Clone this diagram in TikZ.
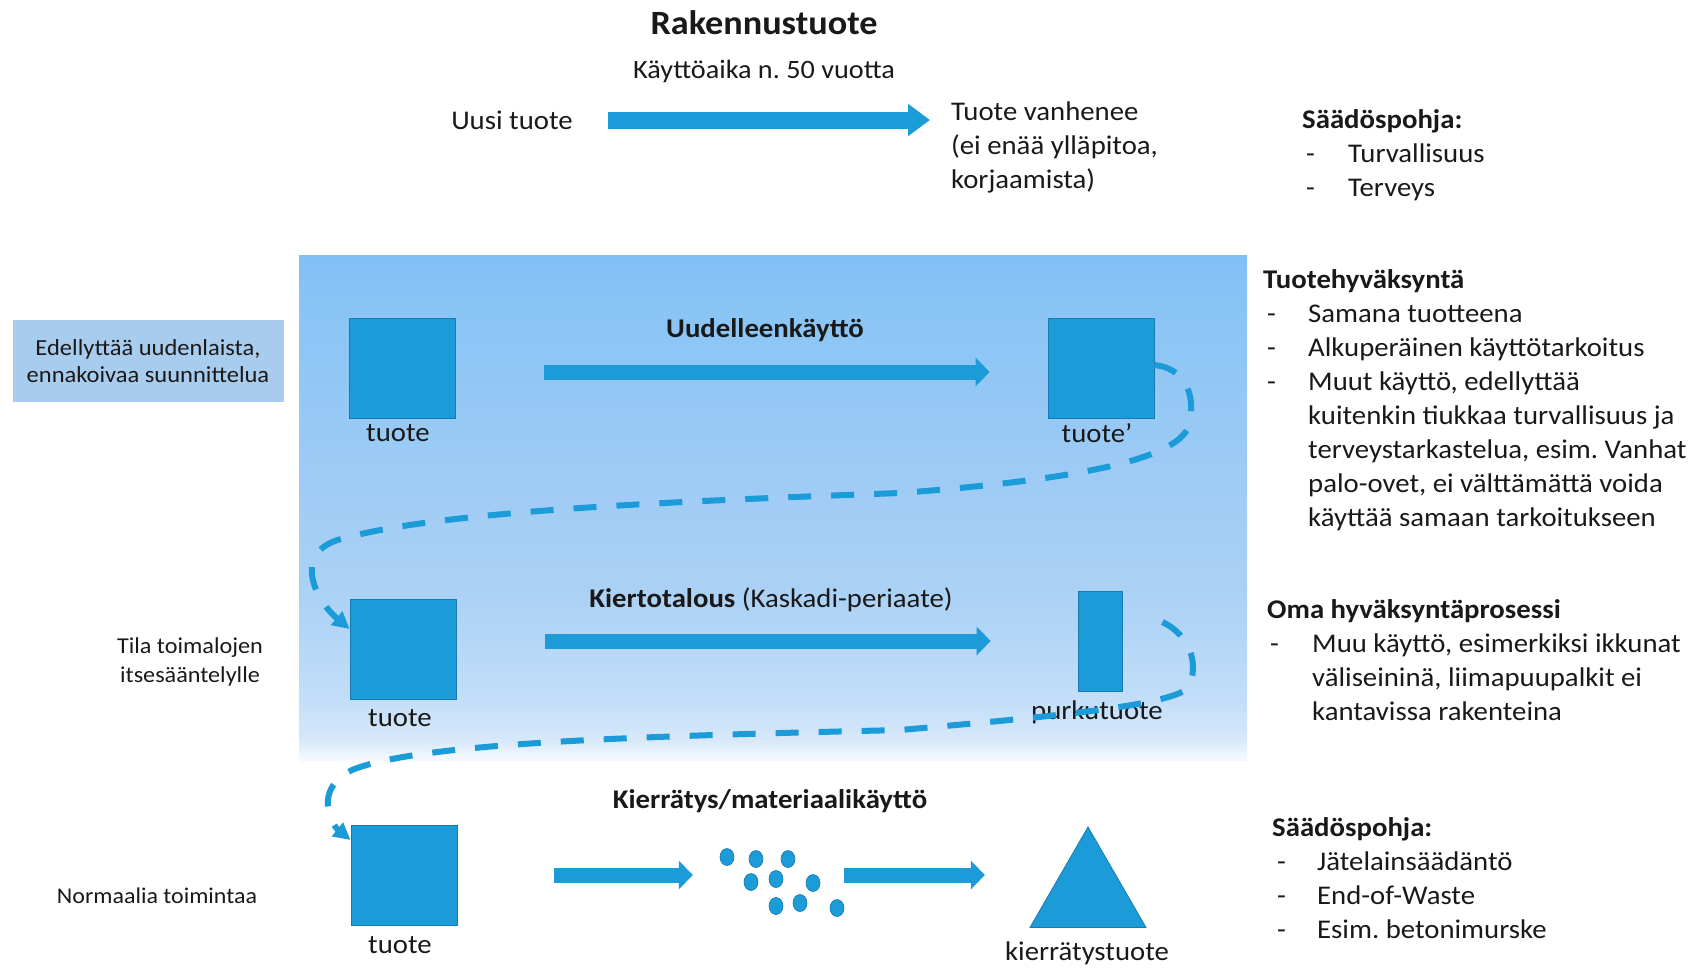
\documentclass[tikz,border=0pt]{standalone}
\usepackage{fontspec}
\setmainfont{Carlito}[FakeStretch=1.065]
\usepackage{tikz}
\usetikzlibrary{shapes,arrows.meta,positioning}
\frenchspacing
\definecolor{boxblue}{RGB}{27,155,215}
\definecolor{boxline}{RGB}{24,122,178}
\definecolor{notefill}{RGB}{168,204,238}
\definecolor{txtcol}{RGB}{25,25,25}
\definecolor{bga}{RGB}{250,252,255}
\definecolor{bgb}{RGB}{215,232,250}
\definecolor{bgc}{RGB}{195,222,248}
\definecolor{bgd}{RGB}{172,210,245}
\definecolor{bge}{RGB}{160,204,245}
\definecolor{bgf}{RGB}{137,196,245}
\definecolor{bgg}{RGB}{130,191,245}
\pgfdeclareverticalshading{bgfade}{100bp}{color(0bp)=(bga); color(25bp)=(bga); color(27.2bp)=(bgb); color(31bp)=(bgc); color(41bp)=(bgd); color(51bp)=(bge); color(70.5bp)=(bgf); color(75bp)=(bgg); color(100bp)=(bgg)}
\tikzset{prod/.style={rectangle,draw=boxline,fill=boxblue,line width=0.8pt,minimum width=106pt,minimum height=100pt,inner sep=0pt},
  txt/.style={text=txtcol,inner sep=0pt,font=\fontsize{27}{34}\selectfont},
  bold/.style={text=txtcol,inner sep=0pt,font=\bfseries\fontsize{27}{34}\selectfont},
  small/.style={text=txtcol,inner sep=0pt,align=center,font=\fontsize{22.7}{29}\selectfont},
  list/.style={text=txtcol,inner sep=0pt,anchor=base west,font=\fontsize{27}{34}\selectfont},
  blockarr/.style={draw=boxblue,line width=15pt,-{Triangle[length=14pt,width=28pt]}},
  bigarr/.style={draw=boxblue,line width=17pt,-{Triangle[length=22pt,width=31pt]}},
  flow/.style={draw=boxblue,line width=6pt,dash pattern=on 23pt off 20pt,-{Triangle[length=17pt,width=17pt]}},
  dot/.style={ellipse,fill=boxblue,draw=boxline,line width=0.6pt,minimum width=14pt,minimum height=17pt,inner sep=0pt},
  tri/.style={regular polygon,regular polygon sides=3,fill=boxblue,draw=boxline,line width=0.8pt,minimum size=134pt,inner sep=0pt}}

\begin{document}
\begin{tikzpicture}[x=1pt,y=-1pt]
    \useasboundingbox (0,0) rectangle (1706,967);
    \shade[shading=bgfade] (299,255) rectangle (1247,762);

    \node[bold,font=\bfseries\fontsize{34}{40}\selectfont] (title) at (764,23) {Rakennustuote};
    \node[txt,font=\fontsize{26.5}{32}\selectfont] (ika) at (764,71) {Käyttöaika n. 50 vuotta};
    \node[txt] (uusi) at (512,120) {Uusi tuote};
    \node[list] (vanh) at (951,120) {\begin{tabular}[t]{@{}l@{}}
        Tuote vanhenee\\(ei enää ylläpitoa,\\korjaamista)
    \end{tabular}};
    \draw[bigarr,shorten <=35pt,shorten >=21pt] (uusi.east) -- (uusi.east -| vanh.west);

    \node[list] (saad1) at (1302,128) {\begin{tabular}[t]{@{}p{46pt}@{}l@{}}
        \multicolumn{2}{@{}l@{}}{\bfseries Säädöspohja:}\\
        \hspace{4pt}-&Turvallisuus\\
        \hspace{4pt}-&Terveys
    \end{tabular}};

    \node[small,fill=notefill,minimum width=271pt,minimum height=82pt,font=\fontsize{23}{27}\selectfont] (edel) at (148,361) {Edellyttää uudenlaista,\\ennakoivaa suunnittelua};
    \node[small] (tila) at (190,662) {Tila toimalojen\\itsesääntelylle};
    \node[small,font=\fontsize{22.5}{27}\selectfont] (norm) at (157,896) {Normaalia toimintaa};

    \node[prod] (t1) at (402,368) {};
    \node[prod] (t1p) at (1101,368) {};
    \node[txt] (l1) at (398,433) {tuote};
    \node[txt] (l1p) at (1097,433) {tuote’};
    \node[bold] (uud) at (765,330) {Uudelleenkäyttö};
    \draw[blockarr,shorten <=89pt,shorten >=58pt] ([yshift=-4pt]t1.east) -- ([yshift=-4pt]t1p.west);

    \node[prod] (t2) at (403,649) {};
    \node[prod,minimum width=44pt] (purku) at (1100,641) {};
    \node[txt] (l2) at (400,718) {tuote};
    \node[txt] (l2p) at (1097,712) {purkutuote};
    \node[txt] (kier) at (771,600) {\textbf{Kiertotalous} (Kaskadi-periaate)};
    \draw[blockarr,shorten <=89pt,shorten >=87pt] (t2.east |- purku.west) -- (purku.west);

    \node[prod] (t3) at (404,875) {};
    \node (dots) at (782,882) [minimum width=124pt,minimum height=68pt,inner sep=0pt] {};
    \foreach \dx/\dy [count=\i] in {-55/-25,-26/-23,6/-23,-31/0,-6/-3,31/1,-6/24,18/21,55/26}
        \node[dot] (dot\i) at ([shift={(\dx,\dy)}]dots.center) {};
    \node[tri] (krt) at (1088,894) {};
    \node[txt] (l3) at (400,945) {tuote};
    \node[txt] (l3k) at (1087,953) {kierrätystuote};
    \node[bold] (kmat) at (770,801) {Kierrätys/materiaalikäyttö};
    \draw[blockarr,shorten <=97pt,shorten >=27pt] (t3.east) -- (t3.east -| dots.west);
    \draw[blockarr,shorten >=64pt] (t3.east -| dots.east) -- (t3.east -| krt.west);

    \draw[flow] ([yshift=3pt]t1p.east) .. controls (1185,368) and (1195,395) .. (1190,420)
        .. controls (1188,455) and (1100,478) .. (900,493)
        .. controls (650,502) and (440,512) .. (345,538)
        .. controls (290,550) and (315,600) .. ([yshift=20pt]t2.west);
    \draw[flow] ([xshift=40pt,yshift=19pt]purku.east) .. controls (1190,635) and (1200,665) .. (1188,688)
        .. controls (1170,705) and (1060,716) .. (900,730)
        .. controls (650,736) and (420,742) .. (352,770)
        .. controls (312,790) and (332,825) .. ([yshift=35pt]t3.west);

    \node[list] (tuh) at (1263,288) {\begin{tabular}[t]{@{}p{45pt}@{}l@{}}
        \multicolumn{2}{@{}l@{}}{\bfseries Tuotehyväksyntä}\\
        \hspace{4pt}-&Samana tuotteena\\
        \hspace{4pt}-&Alkuperäinen käyttötarkoitus\\
        \hspace{4pt}-&Muut käyttö, edellyttää\\
        &kuitenkin tiukkaa turvallisuus ja\\
        &terveystarkastelua, esim. Vanhat\\
        &palo-ovet, ei välttämättä voida\\
        &käyttää samaan tarkoitukseen
    \end{tabular}};
    \node[list] (oma) at (1267,618) {\begin{tabular}[t]{@{}p{45pt}@{}l@{}}
        \multicolumn{2}{@{}l@{}}{\bfseries Oma hyväksyntäprosessi}\\
        \hspace{3pt}-&Muu käyttö, esimerkiksi ikkunat\\
        &väliseininä, liimapuupalkit ei\\
        &kantavissa rakenteina
    \end{tabular}};
    \node[list] (saad2) at (1272,836) {\begin{tabular}[t]{@{}p{45pt}@{}l@{}}
        \multicolumn{2}{@{}l@{}}{\bfseries Säädöspohja:}\\
        \hspace{5pt}-&Jätelainsäädäntö\\
        \hspace{5pt}-&End-of-Waste\\
        \hspace{5pt}-&Esim. betonimurske
    \end{tabular}};
\end{tikzpicture}
\end{document}
